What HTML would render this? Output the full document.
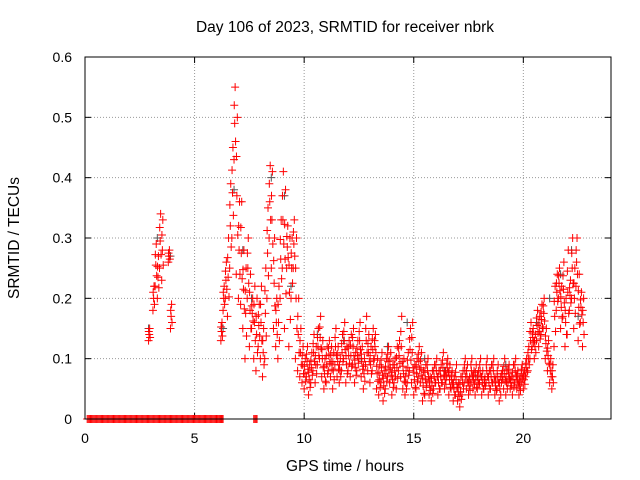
<!DOCTYPE html>
<html><head><meta charset="utf-8"><style>
body{margin:0;background:#fff;}
svg{display:block;font-family:"Liberation Sans",sans-serif;}
</style></head><body>
<svg id="chart" width="640" height="480">
<text x="345" y="32" font-size="15.5" text-anchor="middle">Day 106 of 2023, SRMTID for receiver nbrk</text>
<text x="345" y="471" font-size="15.5" text-anchor="middle">GPS time / hours</text>
<text transform="translate(19,238) rotate(-90)" font-size="15.5" text-anchor="middle">SRMTID / TECUs</text>
<g id="grid"></g><g id="ticks"></g><g id="marks"></g>
<rect x="85" y="57" width="526" height="362" fill="none" stroke="#000"/>
</svg>
<script>
const xTicks=[0,5,10,15,20];
const yTicks=[0,0.1,0.2,0.3,0.4,0.5,0.6];
const yTickLabels=["0","0.1","0.2","0.3","0.4","0.5","0.6"];
const zeroT=[0.1,0.3,0.5,0.7,0.9,1.1,1.3,1.5,1.7,1.9,2.1,2.3,2.5,2.7,2.9,3.1,3.3,3.5,3.7,3.9,4.1,4.3,4.5,4.7,4.9,5.1,5.3,5.5,5.7,5.9,6.1,6.15,7.7];
const redT=[2.9,3.1,3.2,3.3,3.4,3.5,3.8,3.9,6.2,6.3,6.4,6.5,6.6,6.7,6.8,6.9,7.0,7.1,7.2,7.3,7.4,7.5,7.6,7.7,7.8,7.9,8.0,8.1,8.2,8.3,8.4,8.5,8.6,8.7,8.8,8.9,9.0,9.1,9.2,9.3,9.4,9.5,9.6,9.7,9.8,9.9,10.0,10.1,10.2,10.3,10.4,10.5,10.6,10.7,10.8,10.9,11.0,11.1,11.2,11.3,11.4,11.5,11.6,11.7,11.8,11.9,12.0,12.1,12.2,12.3,12.4,12.5,12.6,12.7,12.8,12.9,13.0,13.1,13.2,13.3,13.4,13.5,13.6,13.7,13.8,13.9,14.0,14.1,14.2,14.3,14.4,14.5,14.6,14.7,14.8,14.9,15.0,15.1,15.2,15.3,15.4,15.5,15.6,15.7,15.8,15.9,16.0,16.1,16.2,16.3,16.4,16.5,16.6,16.7,16.8,16.9,17.0,17.1,17.2,17.3,17.4,17.5,17.6,17.7,17.8,17.9,18.0,18.1,18.2,18.3,18.4,18.5,18.6,18.7,18.8,18.9,19.0,19.1,19.2,19.3,19.4,19.5,19.6,19.7,19.8,19.9,20.0,20.1,20.2,20.3,20.4,20.5,20.6,20.7,20.8,20.9,21.0,21.1,21.2,21.3,21.4,21.5,21.6,21.7,21.8,21.9,22.0,22.1,22.2,22.3,22.4,22.5,22.6,22.7];
const redLo=[.13,.18,.22,.2,.25,.23,.26,.15,.13,.18,.2,.17,.25,.3,.43,.24,.2,.19,.15,.1,.2,.12,.15,.1,.08,.12,.1,.07,.1,.2,.3,.25,.15,.12,.1,.2,.25,.15,.25,.12,.2,.25,.1,.08,.07,.06,.05,.07,.04,.06,.08,.06,.09,.1,.07,.05,.06,.08,.07,.05,.09,.07,.06,.08,.1,.06,.08,.07,.09,.06,.08,.1,.07,.05,.09,.08,.06,.08,.1,.05,.04,.06,.03,.05,.07,.06,.04,.06,.05,.08,.07,.05,.04,.06,.08,.06,.04,.05,.07,.06,.03,.04,.06,.04,.03,.05,.06,.04,.05,.06,.05,.07,.04,.05,.03,.04,.03,.02,.04,.06,.05,.04,.06,.05,.04,.05,.06,.04,.05,.06,.04,.05,.06,.04,.05,.03,.06,.05,.04,.06,.05,.04,.06,.05,.04,.06,.05,.07,.08,.1,.12,.1,.13,.12,.14,.15,.1,.08,.06,.05,.12,.18,.2,.15,.17,.12,.14,.18,.2,.15,.22,.13,.16,.12];
const redHi=[.15,.22,.29,.27,.34,.33,.28,.19,.16,.22,.26,.3,.39,.45,.55,.5,.36,.36,.28,.25,.3,.24,.2,.22,.2,.19,.22,.15,.25,.35,.42,.41,.3,.2,.22,.33,.41,.38,.32,.3,.3,.33,.3,.2,.15,.12,.1,.12,.09,.11,.14,.12,.15,.17,.13,.1,.12,.13,.12,.11,.15,.12,.1,.14,.16,.12,.13,.14,.15,.11,.13,.16,.12,.1,.17,.14,.12,.15,.14,.1,.09,.11,.08,.1,.12,.11,.09,.1,.12,.13,.17,.1,.08,.11,.15,.16,.09,.1,.12,.11,.08,.09,.1,.07,.08,.09,.1,.08,.09,.11,.08,.1,.09,.08,.07,.09,.06,.07,.08,.1,.09,.07,.1,.08,.09,.08,.1,.08,.07,.1,.08,.09,.1,.07,.09,.07,.08,.1,.08,.09,.07,.09,.1,.08,.07,.09,.08,.1,.12,.16,.15,.14,.18,.17,.19,.2,.15,.13,.1,.09,.22,.24,.25,.22,.26,.2,.28,.23,.3,.25,.3,.24,.21,.2];
const greyT=[2.9,3.3,3.9,6.3,6.8,7.2,7.6,8.5,9.1,9.4,10.6,11.8,12.6,13.8,14.7,15.5,16.4,17.9,19.2,20.6,21.2,21.7,22.2,22.5];
const greyY=[.15,.3,.27,.15,.38,.28,.2,.4,.37,.22,.14,.13,.1,.12,.16,.1,.08,.07,.09,.16,.2,.24,.28,.17];
const X0=85,X1=611,Y0=419,Y1=57,XMAX=24,YMAX=0.6;
const sx=t=>X0+(X1-X0)*t/XMAX, sy=v=>Y0-(Y0-Y1)*v/YMAX;
const NS="http://www.w3.org/2000/svg";
function mk(tag,attrs,parent){const e=document.createElementNS(NS,tag);for(const k in attrs)e.setAttribute(k,attrs[k]);parent.appendChild(e);return e;}
const grid=document.getElementById('grid'),ticks=document.getElementById('ticks'),marks=document.getElementById('marks');
xTicks.forEach(t=>{const x=sx(t);
 const g=mk('line',{x1:x,x2:x,y1:Y0,y2:Y1,stroke:'#999','stroke-dasharray':'1,2'},grid);
 
 
 mk('line',{x1:x,x2:x,y1:Y0,y2:Y0-6,stroke:'#000'},ticks);
 mk('line',{x1:x,x2:x,y1:Y1,y2:Y1+6,stroke:'#000'},ticks);
 const l=mk('text',{x:x,y:443,'font-size':14,'text-anchor':'middle'},ticks);l.textContent=t;
 
 });
yTicks.forEach((v,i)=>{const y=sy(v);
 const g=mk('line',{x1:X0,x2:X1,y1:y,y2:y,stroke:'#999','stroke-dasharray':'1,2'},grid);
 
 
 mk('line',{x1:X0,x2:X0+6,y1:y,y2:y,stroke:'#000'},ticks);
 mk('line',{x1:X1,x2:X1-6,y1:y,y2:y,stroke:'#000'},ticks);
 const l=mk('text',{x:72,y:y+5,'font-size':14,'text-anchor':'end'},ticks);l.textContent=yTickLabels[i];
 
 });
function plus(t,v,col,name){const x=sx(t),y=sy(v);
 const p=mk('path',{d:`M${x-4},${y}h8M${x},${y-4}v8`,stroke:col,'stroke-width':1,fill:'none'},marks);
 
 }
zeroT.forEach(t=>{plus(t,0,'#f00','zero-point');plus(t+0.05,0,'#f00','zero-point');plus(t+0.1,0,'#f00','zero-point');plus(t+0.15,0,'#f00','zero-point');});
greyT.forEach((t,i)=>plus(t,greyY[i],'#555','grey-point'));
redT.forEach((t,i)=>{const lo=redLo[i],hi=redHi[i],d=hi-lo;
 plus(t,lo,'#f00','red-point');
 plus(t+0.05,hi,'#f00','red-point');
 plus(t+0.03,lo+d*0.5,'#f00','red-point');
 plus(t+0.07,lo+d*0.25,'#f00','red-point');
 plus(t+0.01,lo+d*0.75,'#f00','red-point');});
</script>
</body></html>
